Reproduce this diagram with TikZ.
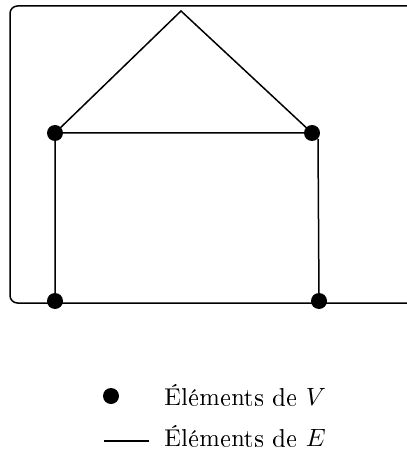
\documentclass[tikz,border=0pt]{standalone}
\usepackage[T1]{fontenc}
\usepackage{tikz}
\usetikzlibrary{positioning}
\tikzset{vtx/.style={circle,fill=black,minimum size=6.4pt,inner sep=0pt},
  edg/.style={line width=0.6pt},
  lbl/.style={anchor=base west,inner sep=0pt}}

\begin{document}
\begin{tikzpicture}[x=0.4pt,y=-0.4pt]
\useasboundingbox (0,0) rectangle (406,452);
% cadre
\draw[edg,rounded corners=3pt] (430,6) -- (10,6) -- (10,303) -- (430,303);
% graphe
\node[vtx] (a) at (55,133) {};
\node[vtx] (b) at (312,133) {};
\node[vtx] (c) at (55,301) {};
\node[vtx] (d) at (319,301) {};
\coordinate (t) at (181,11);
\coordinate (bb) at (318,139);
\draw[edg] (a.center)--(t)--(b.center) (a.center)--(b.center) (a.center)--(c.center) (bb)--(d.center);
% legende
\node[vtx] (lv) at (111,396) {};
\coordinate (le1) at (104,441);
\coordinate (le2) at (149,441);
\draw[edg] (le1)--(le2);
\node[lbl] (tv) at (164,405) {\'El\'ements de $V$};
\node[lbl] (te) at (164,446) {\'El\'ements de $E$};
\end{tikzpicture}
\end{document}
